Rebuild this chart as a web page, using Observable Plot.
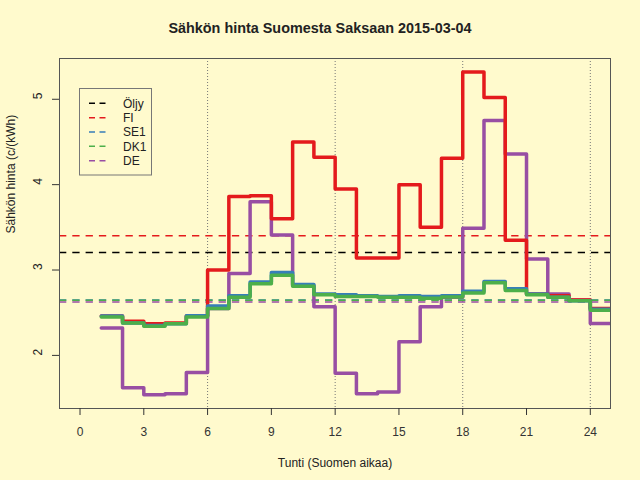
<!DOCTYPE html>
<html><head><meta charset="utf-8">
<script src="https://cdn.jsdelivr.net/npm/d3@7"></script>
<script src="https://cdn.jsdelivr.net/npm/@observablehq/plot@0.6"></script>
<style>
html,body{margin:0;padding:0;background:#FFFACD;}
#wrap{position:relative;width:640px;height:480px;font-family:"Liberation Sans",Arial,sans-serif;overflow:hidden;}
#title{position:absolute;left:0;top:21px;width:640px;text-align:center;font-weight:bold;font-size:14.4px;line-height:14.4px;color:#222;}
#legend{position:absolute;left:79px;top:88px;}
#chart{position:absolute;left:0;top:0;}
</style></head>
<body>
<div id="wrap">
  <div id="chart"></div>
  <div id="title">Sähkön hinta Suomesta Saksaan 2015-03-04</div>
  <div id="legend"></div>
</div>
<script>
// ---- data ----
const hours = [1,2,3,4,5,6,7,8,9,10,11,12,13,14,15,16,17,18,19,20,21,22,23,24];
const FI  = [2.46,2.40,2.37,2.38,2.46,3.00,3.86,3.87,3.60,4.50,4.32,3.95,3.14,3.14,4.00,3.50,4.31,5.32,5.02,3.35,2.72,2.70,2.65,2.55];
const SE1 = [2.46,2.38,2.35,2.37,2.465,2.58,2.70,2.86,2.97,2.83,2.72,2.71,2.70,2.69,2.70,2.69,2.70,2.75,2.865,2.78,2.72,2.68,2.64,2.54];
const DK1 = [2.45,2.38,2.34,2.37,2.45,2.55,2.68,2.84,2.94,2.81,2.71,2.69,2.69,2.68,2.68,2.67,2.685,2.73,2.85,2.76,2.71,2.68,2.64,2.53];
const DE  = [2.32,1.62,1.54,1.55,1.80,2.55,2.96,3.80,3.41,2.82,2.57,1.79,1.55,1.57,2.16,2.57,2.68,3.49,4.75,4.36,3.13,2.72,2.65,2.375];
const meanNames  = ["Öljy","FI","SE1","DK1","DE"];
const meanValues = [3.205,3.40,2.65,2.645,2.625];
const colors = {"Öljy":"#000000","FI":"#E41A1C","SE1":"#377EB8","DK1":"#4DAF4A","DE":"#984EA3"};
const xTicks = [0,3,6,9,12,15,18,21,24];
const yTicks = [2,3,4,5];
const gridHours = [6,12,18,24];
const xLabel = "Tunti (Suomen aikaa)";
const yLabel = "Sähkön hinta (c/(kWh)";

// build step table (last step extended one hour)
function seriesRows(name, vals){
  const rows = hours.map((h,i)=>({hour:h, value:vals[i], series:name}));
  rows.push({hour: hours[hours.length-1]+1, value: vals[vals.length-1], series:name});
  return rows;
}
const stepOrder = [["DE",DE],["FI",FI],["SE1",SE1],["DK1",DK1]];
const means = meanNames.map((n,i)=>({series:n, value:meanValues[i]}));

const marks = [
  Plot.ruleX(gridHours, {stroke:"#777", strokeDasharray:"1,2", strokeWidth:1}),
  ...means.map(m => Plot.ruleY([m], {y:"value", stroke: colors[m.series], strokeWidth:1.5, strokeDasharray:"7.3,6"})),
  ...stepOrder.map(([n,v]) => Plot.line(seriesRows(n,v), {x:"hour", y:"value", stroke: colors[n], strokeWidth:3.5, curve:"step-after", clip:true})),
  Plot.frame({stroke:"#555", strokeWidth:1}),
  Plot.axisX({ticks: xTicks, tickSize:7, tickPadding:12, label:null, color:"#333", fontSize:12}),
  Plot.axisY({ticks: yTicks, tickSize:7, tickFormat: () => "", label:null, color:"#333"}),
  Plot.text(yTicks, {y: d=>d, text: d=>String(d), frameAnchor:"left", dx:-21, rotate:-90, fill:"#222", fontSize:12}),
  Plot.text([xLabel], {text: d=>d, frameAnchor:"bottom", dy:50, lineAnchor:"top", fill:"#222", fontSize:12}),
  Plot.text([yLabel], {text: d=>d, frameAnchor:"left", dx:-48, rotate:-90, fill:"#222", fontSize:12})
];

const chart = Plot.plot({
  width: 640, height: 480,
  marginLeft: 59, marginRight: 30, marginTop: 58, marginBottom: 72,
  x: {domain: [-0.965, 24.95], axis: null},
  y: {domain: [1.378, 5.4775], axis: null},
  style: {background:"transparent", fontFamily:"Liberation Sans, Arial, sans-serif", fontSize:"12px", color:"#222"},
  marks
});
document.getElementById("chart").appendChild(chart);

// legend
const lg = d3.select("#legend").append("svg").attr("width",73).attr("height",88);
lg.append("rect").attr("x",0.5).attr("y",0.5).attr("width",72).attr("height",86.5)
  .attr("fill","none").attr("stroke","#777").attr("stroke-width",1);
meanNames.forEach((n,i)=>{
  const cy = 15.3 + i*14.35;
  lg.append("line").attr("x1",10).attr("x2",30).attr("y1",cy).attr("y2",cy)
    .attr("stroke",colors[n]).attr("stroke-width",1.5).attr("stroke-dasharray","6,4.5");
  lg.append("text").attr("x",44).attr("y",cy).attr("dy","0.36em")
    .attr("font-size",12).attr("fill","#222").attr("font-family","Liberation Sans, Arial, sans-serif").text(n);
});
</script>
</body></html>
